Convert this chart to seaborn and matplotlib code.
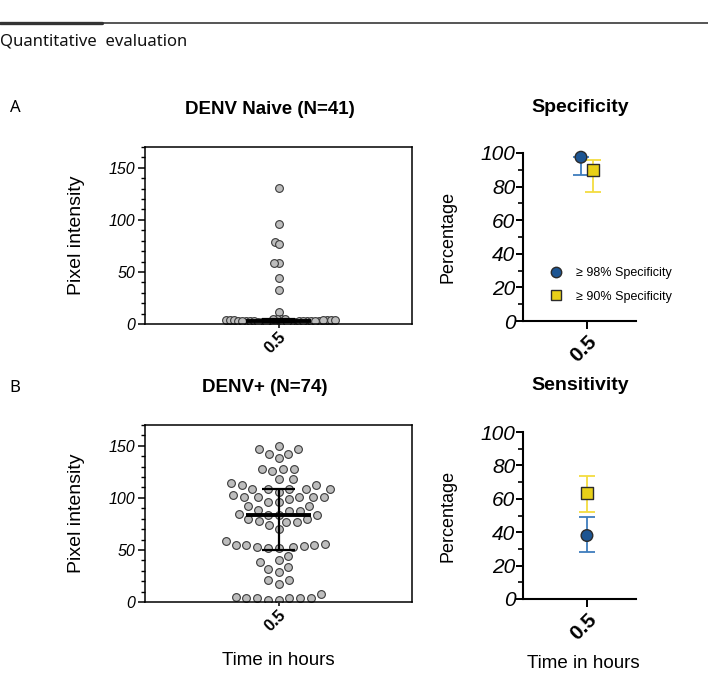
import numpy as np
import pandas as pd
import matplotlib
matplotlib.use("Agg")
import matplotlib.pyplot as plt
import seaborn as sns
from matplotlib.lines import Line2D
from matplotlib.ticker import MultipleLocator

# ---------------- data ----------------
time_label = ["0.5"]

naive_values = [130.4, 96.0, 79.0, 76.6, 59.0, 59.0, 44.0, 33.0, 12.0,
                4.5, 5.0, 3.0, 2.5, 1.0, 4.0, 3.5, 2.0, 3.0, 1.5, 2.5, 4.0,
                3.0, 2.0, 1.0, 3.5, 4.5, 2.5, 3.0, 5.0, 2.0, 1.5, 4.0, 3.0,
                2.5, 3.5, 1.0, 2.0, 4.0, 3.0, 2.5, 1.5]
naive_summary = [2.0, 3.2, 4.5]          # q1, median, q3

pos_values = [150, 147, 147, 142, 142, 138, 128, 128, 128, 126, 118, 118,
              114, 112.5, 112.5, 109, 109, 109, 109, 109, 106, 103, 101, 101,
              101, 101, 101, 99, 96, 96, 92, 92, 88, 87, 87, 85, 84, 84, 84,
              80, 80, 78, 77, 77, 74, 70, 59, 56, 55, 55, 55, 54, 53, 53, 52,
              52, 44, 40, 38, 34, 32, 29, 21, 21, 17.6, 8, 5, 4, 3.5, 3.5,
              3.5, 3.5, 2, 2]
pos_summary = [50.0, 84.0, 109.0]        # q1, median, q3

groups = ["\u2265 98% Specificity", "\u2265 90% Specificity"]
spec_val = [97.5, 90.0]
spec_lo = [87.0, 77.0]
spec_hi = [97.5, 96.0]
sens_val = [38.0, 63.5]
sens_lo = [28.0, 52.0]
sens_hi = [49.0, 73.5]

yticks_pixel = [0, 50, 100, 150]
yticks_pct = [0, 20, 40, 60, 80, 100]

# ---------------- style ----------------
sns.set_theme(style="ticks")
plt.rcParams["font.family"] = ["Liberation Sans", "DejaVu Sans"]
plt.rcParams["axes.linewidth"] = 1.1
for k in ["text.color", "axes.labelcolor", "xtick.color", "ytick.color"]:
    plt.rcParams[k] = "black"

W, H = 708, 677
fig = plt.figure(figsize=(W / 100, H / 100), dpi=100)


def box(l, t, r, b):
    return [l / W, 1 - b / H, (r - l) / W, (b - t) / H]


axA = fig.add_axes(box(145, 147, 412, 324))
axB = fig.add_axes(box(145, 425, 412, 602))
axS = fig.add_axes(box(523, 153, 636, 321))
axN = fig.add_axes(box(523, 432, 636, 599))

blue, yellow = "#1d5592", "#e8d018"
blue_err, yellow_err = "#3f7dbd", "#f3dc40"
pal = {groups[0]: blue, groups[1]: yellow}
mk = {groups[0]: "o", groups[1]: "s"}
errc = [blue_err, yellow_err]

dot_size = 5.6
swarms = []
# ---------------- left panels (scatter dot plots) ----------------
for ax, vals, summ, layout_size in [(axA, naive_values, naive_summary, 2.0),
                                    (axB, pos_values, pos_summary, 6.6)]:
    df = pd.DataFrame({"time": time_label * len(vals), "value": vals})
    n_before = len(ax.collections)
    sns.swarmplot(data=df, x="time", y="value", ax=ax, color="#bdbdbd",
                  edgecolor="#3a3a3a", linewidth=0.8, size=layout_size,
                  zorder=2, warn_thresh=1.0)
    swarms.extend(ax.collections[n_before:])
    q1, med, q3 = summ
    ax.vlines(0, q1, q3, color="black", lw=1.6, zorder=5)
    ax.hlines([q1, q3], -0.062, 0.062, color="black", lw=1.6, zorder=5)
    ax.hlines(med, -0.123, 0.123, color="black", lw=2.8, zorder=6)
    ax.set_xlim(-0.5, 0.5)
    ax.set_ylim(0, 170)
    ax.set_yticks(yticks_pixel)
    ax.set_yticklabels([str(v) for v in yticks_pixel])
    ax.yaxis.set_minor_locator(MultipleLocator(10))
    ax.tick_params(axis="y", which="major", length=5, width=1.1,
                   labelsize=11.5, pad=2)
    ax.tick_params(axis="y", which="minor", length=3, width=1.0)
    ax.tick_params(axis="x", length=3, width=1.1, labelsize=12, pad=1)
    for lab in ax.get_yticklabels():
        lab.set_fontstyle("italic")
    for lab in ax.get_xticklabels():
        lab.set_fontweight("bold")
        lab.set_rotation(45)
        lab.set_ha("right")
        lab.set_va("top")
        lab.set_rotation_mode("anchor")
    for sp in ax.spines.values():
        sp.set_visible(True)
        sp.set_linewidth(1.1)
        sp.set_color("black")
    ax.set_ylabel("Pixel intensity", fontsize=14)
    ax.yaxis.set_label_coords(-0.225, 0.5)
    ax.set_xlabel("")

axB.set_xlabel("Time in hours", fontsize=13.5)
axB.xaxis.set_label_coords(0.5, -0.285)

# ---------------- right panels (percent with CI) ----------------
for ax, vals, lo, hi, offs in [(axS, spec_val, spec_lo, spec_hi, [-0.053, 0.053]),
                               (axN, sens_val, sens_lo, sens_hi, [0.0, 0.0])]:
    df = pd.DataFrame({"group": groups, "x": offs, "value": vals})
    for i in range(len(groups)):
        ax.errorbar(offs[i], vals[i],
                    yerr=[[vals[i] - lo[i]], [hi[i] - vals[i]]],
                    fmt="none", ecolor=errc[i], elinewidth=1.3,
                    capsize=5.5, capthick=1.3, zorder=2)
    sns.scatterplot(data=df, x="x", y="value", hue="group", style="group",
                    palette=pal, markers=mk, s=70, edgecolor="#2b2b2b",
                    linewidth=1.0, ax=ax, legend=False, zorder=4)
    for c in ax.collections:
        c.set_clip_on(False)
    ax.set_xlim(-0.566, 0.434)
    ax.set_ylim(0, 100)
    ax.set_xticks([0])
    ax.set_xticklabels(time_label)
    ax.set_yticks(yticks_pct)
    ax.set_yticklabels([str(v) for v in yticks_pct])
    ax.yaxis.set_minor_locator(MultipleLocator(10))
    ax.tick_params(axis="y", which="major", length=5, width=1.4,
                   labelsize=15, pad=0.5)
    ax.tick_params(axis="y", which="minor", length=3.5, width=1.2)
    ax.tick_params(axis="x", length=6, width=1.4, labelsize=15, pad=2)
    for lab in ax.get_yticklabels():
        lab.set_fontstyle("italic")
    for lab in ax.get_xticklabels():
        lab.set_fontweight("bold")
        lab.set_rotation(45)
        lab.set_ha("right")
        lab.set_va("top")
        lab.set_rotation_mode("anchor")
    for s in ["top", "right"]:
        ax.spines[s].set_visible(False)
    for s in ["left", "bottom"]:
        ax.spines[s].set_linewidth(1.5)
        ax.spines[s].set_color("black")
    ax.set_ylabel("Percentage", fontsize=13)
    ax.yaxis.set_label_coords(-0.59, 0.5)
    ax.set_xlabel("")

axN.set_xlabel("Time in hours", fontsize=13.5)
axN.xaxis.set_label_coords(0.53, -0.335)

handles = [Line2D([], [], ls="none", marker=mk[g], markersize=7.5,
                  markerfacecolor=pal[g], markeredgecolor="#2b2b2b",
                  markeredgewidth=1.0) for g in groups]
axS.legend(handles, groups, loc="upper left", bbox_to_anchor=(0.235, 0.32),
           frameon=False, fontsize=9, handlelength=1.0, handletextpad=1.1,
           labelspacing=0.92, borderaxespad=0, borderpad=0)

# ---------------- figure decorations ----------------
fig.add_artist(Line2D([0, 1], [1 - 23 / H] * 2, color="#555555", lw=1.4))
fig.add_artist(Line2D([0, 102 / W], [1 - 23 / H] * 2, color="#333333", lw=2.4))
fig.text(0.0, 1 - 42 / H, "Quantitative  evaluation", fontsize=12,
         family=["Noto Sans", "DejaVu Sans"], va="center", ha="left",
         color="#111111")
fig.text(15 / W, 1 - 108 / H, "A", fontsize=12, va="center", ha="center",
         family=["Noto Sans", "DejaVu Sans"])
fig.text(15 / W, 1 - 388 / H, "B", fontsize=12, va="center", ha="center",
         family=["Noto Sans", "DejaVu Sans"])
fig.text(270 / W, 1 - 109 / H, "DENV Naive (N=41)", fontsize=13.5,
         fontweight="bold", va="center", ha="center")
fig.text(265 / W, 1 - 388 / H, "DENV+ (N=74)", fontsize=13.5,
         fontweight="bold", va="center", ha="center")
fig.text(580 / W, 1 - 108 / H, "Specificity", fontsize=14,
         fontweight="bold", va="center", ha="center")
fig.text(580 / W, 1 - 386 / H, "Sensitivity", fontsize=14,
         fontweight="bold", va="center", ha="center")

# lay the swarms out, then show the dots at their displayed size
fig.canvas.draw()
for pts in swarms:
    pts.__dict__.pop("draw", None)
    pts.set_sizes([dot_size ** 2])

fig.savefig("out.png", dpi=100)
